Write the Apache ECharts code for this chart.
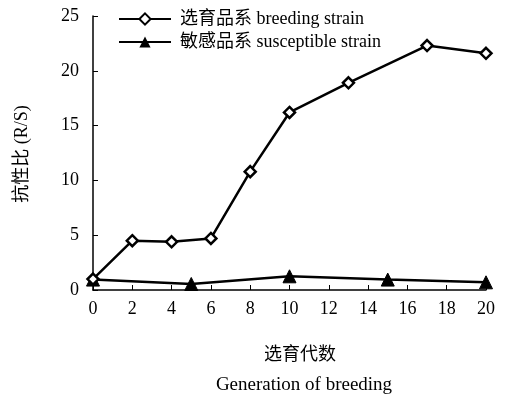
<!DOCTYPE html>
<html><head><meta charset="utf-8">
<script src="https://cdn.jsdelivr.net/npm/echarts@6/dist/echarts.min.js"></script>
<style>html,body{margin:0;padding:0;background:#fff}#c{width:512px;height:397px}</style>
</head><body><div id="c"></div>
<script>
const breedingGen = [0, 2, 4, 6, 8, 10, 13, 17, 20];
const breedingRatio = [1.0, 4.5, 4.4, 4.7, 10.8, 16.2, 18.9, 22.3, 21.6];
const suscGen = [0, 5, 10, 15, 20];
const suscRatio = [0.95, 0.55, 1.25, 0.95, 0.7];
const seriesNames = ['选育品系 breeding strain', '敏感品系 susceptible strain'];
const yTitle = '抗性比 (R/S)';
const xTitleCn = '选育代数';
const xTitleEn = 'Generation of breeding';

const font = '"Liberation Serif","Noto Sans CJK SC",serif';
const chart = echarts.init(document.getElementById('c'), null, {renderer: 'canvas'});
chart.setOption({
  animation: false,
  backgroundColor: '#fff',
  grid: {left: 93, right: 26, top: 16, bottom: 107},
  legend: {
    left: 113, top: 5, orient: 'vertical', itemGap: 5,
    itemWidth: 52, itemHeight: 14,
    textStyle: {fontFamily: font, fontSize: 18, lineHeight: 18, color: '#000', padding: [0, 0, 0, 4]},
    data: seriesNames
  },
  xAxis: {
    type: 'value', min: 0, max: 20, interval: 2,
    axisLine: {lineStyle: {color: '#000', width: 1.5}},
    axisTick: {inside: true, length: 5, lineStyle: {color: '#000'}},
    splitLine: {show: false},
    axisLabel: {fontFamily: font, fontSize: 18, color: '#000', margin: 10}
  },
  yAxis: {
    type: 'value', min: 0, max: 25, interval: 5,
    axisLine: {show: true, lineStyle: {color: '#000', width: 1.5}},
    axisTick: {show: true, inside: true, length: 5, lineStyle: {color: '#000'}},
    splitLine: {show: false},
    axisLabel: {fontFamily: font, fontSize: 18, color: '#000', margin: 14}
  },
  graphic: [
    {type: 'text', x: 22, y: 154, rotation: Math.PI/2,
     style: {text: yTitle, font: '18px ' + font, fill: '#000', textAlign: 'center', textVerticalAlign: 'middle'}},
    {type: 'text', x: 300, y: 355, style: {text: xTitleCn, font: '18px ' + font, fill: '#000', textAlign: 'center', textVerticalAlign: 'middle'}},
    {type: 'text', x: 304, y: 385, style: {text: xTitleEn, font: '19px ' + font, fill: '#000', textAlign: 'center', textVerticalAlign: 'middle'}}
  ],
  series: [
    {name: seriesNames[0], type: 'line', data: breedingGen.map((g, i) => [g, breedingRatio[i]]),
     symbol: 'diamond', symbolSize: 11, lineStyle: {color: '#000', width: 2.5},
     itemStyle: {color: '#fff', borderColor: '#000', borderWidth: 2.5}, z: 3},
    {name: seriesNames[1], type: 'line', data: suscGen.map((g, i) => [g, suscRatio[i]]),
     symbol: 'triangle', symbolSize: 13, lineStyle: {color: '#000', width: 2.5},
     itemStyle: {color: '#000', borderColor: '#000'}, z: 2}
  ]
});
</script></body></html>
